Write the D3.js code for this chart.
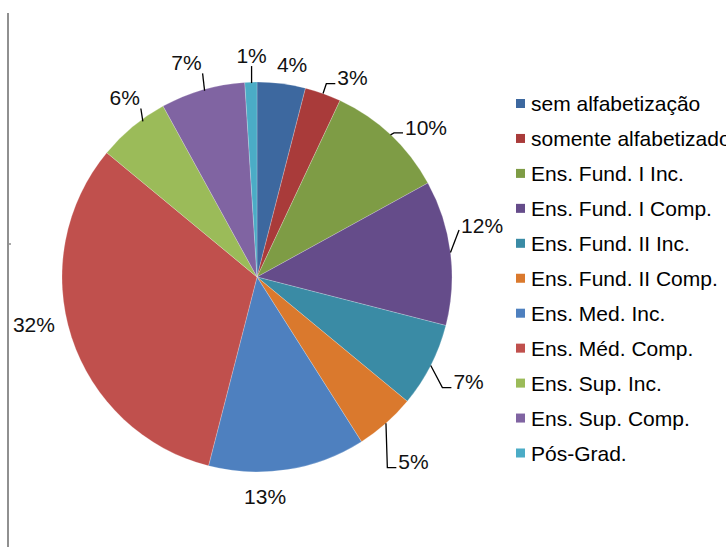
<!DOCTYPE html>
<html>
<head>
<meta charset="utf-8">
<script src="https://cdn.jsdelivr.net/npm/d3@7"></script>
<style>
  html, body { margin: 0; padding: 0; background: #fff; }
  svg { display: block; font-family: "Liberation Sans", Arial, sans-serif; }
</style>
</head>
<body>
<svg id="chart" width="726" height="547"></svg>
<script>
// Escolaridade: categories, shares (%) and slice colours
const categories = [
  "sem alfabetização",
  "somente alfabetizado",
  "Ens. Fund. I Inc.",
  "Ens. Fund. I Comp.",
  "Ens. Fund. II Inc.",
  "Ens. Fund. II Comp.",
  "Ens. Med. Inc.",
  "Ens. Méd. Comp.",
  "Ens. Sup. Inc.",
  "Ens. Sup. Comp.",
  "Pós-Grad."
];
const values = [4, 3, 10, 12, 7, 5, 13, 32, 6, 7, 1];
const colors = [
  "#3d689f", "#a93b3a", "#7e9c45", "#654c8a", "#3a8ba5", "#da792d",
  "#4e80bf", "#c0504d", "#9bbb59", "#8064a2", "#4bacc6"
];

// Data-label placement: polar position of each label (degrees clockwise from 12 o'clock,
// distance from the pie centre) and the kind of leader line joining it to its slice.
const labelLayout = [
  { a: 9.4,   d: 215, leader: null },
  { a: 25.6,  d: 221, leader: "elbow" },
  { a: 48.4,  d: 226, leader: "elbow" },
  { a: 77.0,  d: 231, leader: "diag" },
  { a: 116.3, d: 236, leader: "elbow" },
  { a: 139.7, d: 242, leader: "elbow" },
  { a: 177.9, d: 220, leader: null },
  { a: 258.1, d: 228, leader: null },
  { a: 323.6, d: 223, leader: "upRight" },
  { a: 341.8, d: 226, leader: "upRight" },
  { a: 358.6, d: 222, leader: "upCenter" }
];

const svg = d3.select("#chart");
const W = 726, H = 547;
const cx = 257, cy = 277, R = 195;
const fontSize = 21;

svg.append("rect").attr("width", W).attr("height", H).attr("fill", "#fff");

// left border of the chart frame
svg.append("line")
  .attr("x1", 8).attr("x2", 8).attr("y1", 13).attr("y2", H)
  .attr("stroke", "#909090").attr("stroke-width", 2);
svg.append("rect").attr("x", 9).attr("y", 243).attr("width", 2).attr("height", 2).attr("fill", "#aaa");

const data = categories.map((c, i) => ({ name: c, value: values[i], color: colors[i], layout: labelLayout[i] }));

const pie = d3.pie().value(d => d.value).sort(null);
const arcs = pie(data);
const arc = d3.arc().innerRadius(0).outerRadius(R);

const g = svg.append("g").attr("transform", `translate(${cx},${cy})`);

g.selectAll("path.slice")
  .data(arcs)
  .join("path")
  .attr("class", "slice")
  .attr("d", arc)
  .attr("fill", d => d.data.color)
  .attr("stroke", "rgba(255,255,255,0.35)")
  .attr("stroke-width", 0.6);

// labels and leader lines
const toXY = (deg, dist) => {
  const t = deg * Math.PI / 180;
  return [dist * Math.sin(t), -dist * Math.cos(t)];
};

const fmt = v => `${v}%`;

arcs.forEach(d => {
  const L = d.data.layout;
  const [lx, ly] = toXY(L.a, L.d);
  const text = g.append("text")
    .attr("x", lx)
    .attr("y", ly + fontSize * 0.36)
    .attr("text-anchor", "middle")
    .attr("font-size", fontSize)
    .attr("fill", "#111")
    .text(fmt(d.data.value));

  if (!L.leader) return;
  const w = text.node().getComputedTextLength();
  const left = lx - w / 2, right = lx + w / 2, bottom = ly + 7;
  const mid = (d.startAngle + d.endAngle) / 2 * 180 / Math.PI;
  const [ex, ey] = toXY(mid, R);
  let pts;
  if (L.leader === "elbow") {
    pts = [[ex, ey], [left - 11, bottom - 1], [left - 2, bottom - 1]];
  } else if (L.leader === "diag") {
    pts = [[ex, ey], [left - 2, bottom - 2]];
  } else {
    const x = L.leader === "upRight" ? right + 1 : lx;
    const yEdge = -Math.sqrt(R * R - x * x);
    pts = [[x + (L.leader === "upRight" ? 2 : 0), yEdge + 1], [x, bottom + 4]];
  }
  g.append("path")
    .attr("d", d3.line()(pts))
    .attr("fill", "none")
    .attr("stroke", "#000")
    .attr("stroke-width", 1.3);
});

// legend
const legendY = d3.scalePoint().domain(categories).range([103.5, 453]);
const legend = svg.append("g");
const rows = legend.selectAll("g.row")
  .data(data)
  .join("g")
  .attr("class", "row")
  .attr("transform", d => `translate(0,${legendY(d.name)})`);
rows.append("rect")
  .attr("x", 516).attr("y", -4.5).attr("width", 9).attr("height", 9)
  .attr("fill", d => d.color);
rows.append("text")
  .attr("x", 531).attr("y", 7.5)
  .attr("font-size", fontSize)
  .attr("fill", "#000")
  .text(d => d.name);
</script>
</body>
</html>
